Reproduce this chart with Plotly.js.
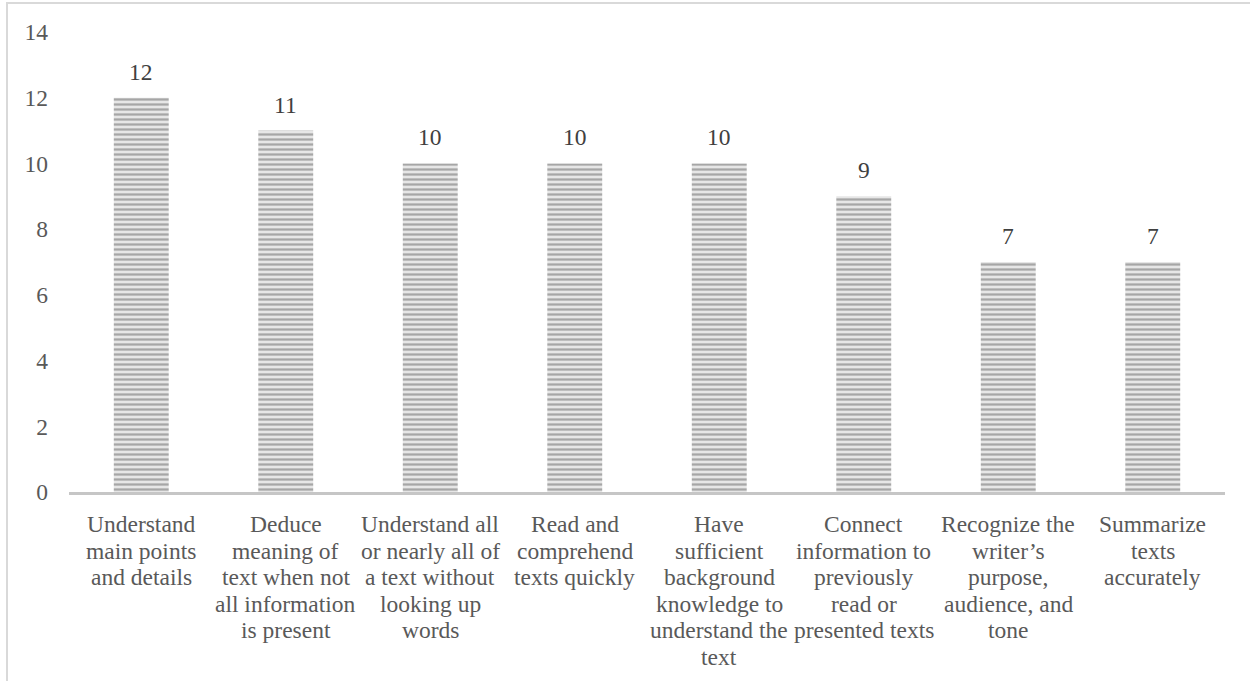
<!DOCTYPE html>
<html>
<head>
<meta charset="utf-8">
<script src="https://cdn.plot.ly/plotly-3.0.1.min.js"></script>
<style>
  html, body { margin: 0; padding: 0; overflow: hidden; background: #ffffff; }
  #chart { position: absolute; left: 0; top: 0; width: 1250px; height: 681px; }
  #frame { position: absolute; left: 6px; top: 2px; width: 1300px; height: 720px;
           border: 2px solid #d9d9d9; pointer-events: none; }
</style>
</head>
<body>
<div id="chart"></div>
<div id="frame"></div>
<script>
const categories = [
  "Understand<br>main points<br>and details",
  "Deduce<br>meaning of<br>text when not<br>all information<br>is present",
  "Understand all<br>or nearly all of<br>a text without<br>looking up<br>words",
  "Read and<br>comprehend<br>texts quickly",
  "Have<br>sufficient<br>background<br>knowledge to<br>understand the<br>text",
  "Connect<br>information to<br>previously<br>read or<br>presented texts",
  "Recognize the<br>writer’s<br>purpose,<br>audience, and<br>tone",
  "Summarize<br>texts<br>accurately"
];
const values = [12, 11, 10, 10, 10, 9, 7, 7];
const yTicks = [0, 2, 4, 6, 8, 10, 12, 14];

const FONT = "Times New Roman, Liberation Serif, Tinos, DejaVu Serif, serif";
const FS = 23.5;
const LINE_H = 26.5;

const trace = {
  type: 'bar',
  x: categories,
  y: values,
  marker: {
    color: '#e6e6e6',
    line: { width: 0 },
    pattern: { shape: '-', bgcolor: '#e6e6e6', fgcolor: '#a6a6a6', size: 5, solidity: 0.45 }
  },
  hoverinfo: 'none'
};

const valueLabels = categories.map((c, i) => ({
  x: c, y: values[i], xref: 'x', yref: 'y',
  text: String(values[i]), showarrow: false,
  yanchor: 'bottom', yshift: 11,
  font: { family: FONT, size: FS, color: '#404040' }
}));

// category labels: one annotation per line for Office-like line spacing
const catLabels = [];
categories.forEach((c) => {
  c.split('<br>').forEach((line, j) => {
    catLabels.push({
      x: c, y: 0, xref: 'x', yref: 'y',
      text: line, showarrow: false,
      xanchor: 'center', yanchor: 'middle',
      yshift: -(32 + j * LINE_H),
      font: { family: FONT, size: FS, color: '#595959' }
    });
  });
});

const layout = {
  width: 1250, height: 681,
  margin: { l: 69, r: 25, t: 32, b: 189 },
  paper_bgcolor: 'rgba(0,0,0,0)',
  plot_bgcolor: 'rgba(0,0,0,0)',
  showlegend: false,
  bargap: 0.62,
  font: { family: FONT, size: FS, color: '#595959' },
  xaxis: {
    type: 'category',
    showline: true, linecolor: '#c6c6c6', linewidth: 2.5,
    ticks: '', showgrid: false, zeroline: false,
    showticklabels: false
  },
  yaxis: {
    range: [0, 14],
    tickvals: yTicks,
    ticktext: yTicks.map(String),
    showline: false, showgrid: false, zeroline: false,
    ticks: '',
    ticklabelstandoff: 20,
    tickfont: { family: FONT, size: FS, color: '#595959' }
  },
  annotations: valueLabels.concat(catLabels)
};

Plotly.newPlot('chart', [trace], layout, { displayModeBar: false, staticPlot: true });
</script>
</body>
</html>
